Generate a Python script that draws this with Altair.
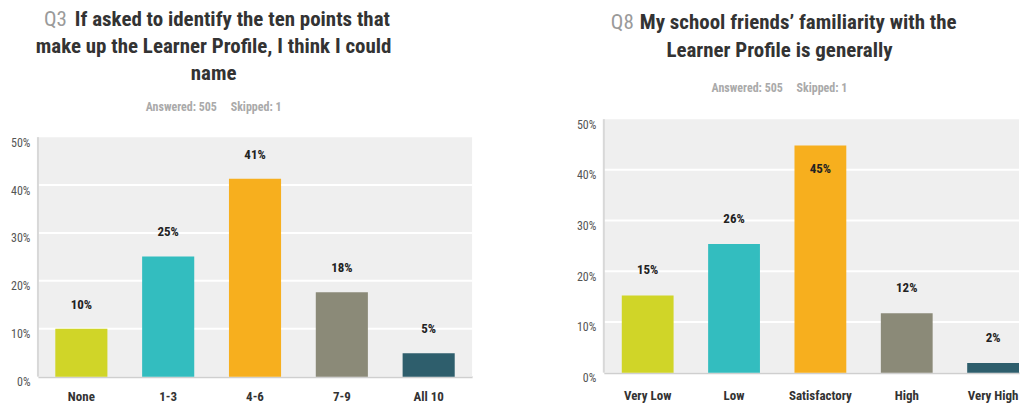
import altair as alt
import pandas as pd

# ---- data ----
q3_categories = ["None", "1-3", "4-6", "7-9", "All 10"]
q3_values = [0.100, 0.251, 0.413, 0.176, 0.049]
q3_labels = ["10%", "25%", "41%", "18%", "5%"]

q8_categories = ["Very Low", "Low", "Satisfactory", "High", "Very High"]
q8_values = [0.152, 0.254, 0.448, 0.117, 0.019]
q8_labels = ["15%", "26%", "45%", "12%", "2%"]

bar_colors = ["#D0D528", "#33BDBF", "#F7AF1E", "#8B8A78", "#2E5E6C"]
y_ticks = [0, 0.1, 0.2, 0.3, 0.4, 0.5]
grid_ticks = [0.1, 0.2, 0.3, 0.4]

q3_number = "Q3"
q3_title_first = "If asked to identify the ten points that"
q3_title_rest = ["make up the Learner Profile, I think I could", "name"]
q8_number = "Q8"
q8_title_first = "My school friends\u2019 familiarity with the"
q8_title_rest = ["Learner Profile is generally"]
subtitle = "Answered: 505\u00a0\u00a0\u00a0\u00a0 Skipped: 1"

FONT = "Liberation Sans Narrow, Arial Narrow, Roboto Condensed, sans-serif"


def one_text(text, x, y, **kw):
    return alt.Chart(alt.Data(values=[{}])).mark_text(
        text=text, font=FONT, baseline="alphabetic", **kw
    ).encode(x=alt.value(x), y=alt.value(y))


def panel(cats, vals, labels, number, first, rest, width, height, y_range,
          line_ys, sub_y, number_x, first_x, center_x, label_pad, band_scale):
    df = pd.DataFrame({"cat": cats, "v": vals, "lab": labels})
    base = alt.Chart(df)
    yscale = alt.Scale(domain=[0, 0.5], range=y_range)
    x = alt.X(
        "cat:N", sort=cats, scale=band_scale,
        axis=alt.Axis(
            title=None, labelAngle=0, ticks=False, domain=True,
            domainColor="#cfcfcf", domainWidth=2,
            labelFont=FONT, labelFontWeight="bold", labelFontSize=13,
            labelColor="#333333", labelPadding=label_pad,
        ),
    )
    y = alt.Y(
        "v:Q", scale=yscale,
        axis=alt.Axis(
            title=None, values=y_ticks, format=".0%", grid=False,
            domain=False, ticks=False, labelPadding=8, labelColor="#555555",
            labelFont=FONT, labelFontSize=12, labelOffset=5,
            minExtent=30, maxExtent=30,
        ),
    )
    bg = alt.Chart(alt.Data(values=[{}])).mark_rect(color="#efefef").encode(
        x=alt.value(0), x2=alt.value(width),
        y=alt.datum(0, scale=yscale), y2=alt.datum(0.5),
    )
    grid = alt.Chart(pd.DataFrame({"t": grid_ticks})).mark_rule(
        color="#ffffff", strokeWidth=2
    ).encode(y=alt.Y("t:Q", scale=yscale), x=alt.value(0), x2=alt.value(width))
    vline = alt.Chart(alt.Data(values=[{}])).mark_rule(
        color="#d8d8d8", strokeWidth=2
    ).encode(x=alt.value(0), y=alt.datum(0, scale=yscale), y2=alt.datum(0.5))
    bars = base.mark_bar().encode(
        x=x, y=y,
        color=alt.Color("cat:N", scale=alt.Scale(domain=cats, range=bar_colors), legend=None),
    )
    texts = base.transform_calculate(
        ly="datum.v > 0.42 ? datum.v - 0.046 : datum.v + 0.05"
    ).mark_text(
        font=FONT, fontWeight="bold", fontSize=13, color="#222222", baseline="middle"
    ).encode(x=alt.X("cat:N", sort=cats), y=alt.Y("ly:Q", scale=yscale), text="lab:N")

    layers = [bg, grid, vline, bars, texts]
    layers.append(one_text(number, number_x, line_ys[0], align="right",
                           fontSize=21, color="#9a9a9a"))
    layers.append(one_text(first, first_x, line_ys[0], align="left",
                           fontSize=21, fontWeight="bold", color="#333333"))
    for t, yy in zip(rest, line_ys[1:]):
        layers.append(one_text(t, center_x, yy, align="center",
                               fontSize=21, fontWeight="bold", color="#333333"))
    layers.append(one_text(subtitle, center_x, sub_y, align="center",
                           fontSize=12, fontWeight="bold", color="#aaaaaa"))
    return alt.layer(*layers).properties(width=width, height=height)


left = panel(q3_categories, q3_values, q3_labels, q3_number, q3_title_first, q3_title_rest,
             435, 258, [258, 18], [-93, -66, -39], -8, 29, 37, 176, 14,
             alt.Scale(paddingInner=0.4, paddingOuter=0.2))
right = panel(q8_categories, q8_values, q8_labels, q8_number, q8_title_first, q8_title_rest,
              416, 254, [254, 0], [-90, -62], -27, 30, 36, 176, 17,
              alt.Scale(paddingInner=0.4, paddingOuter=0.104, align=1))

chart = alt.hconcat(left, right, spacing=101).properties(
    padding={"left": 0, "top": 1, "right": 0, "bottom": 0}
).configure_view(strokeWidth=0)

chart.save("out.html", embed_options={"renderer": "svg", "actions": False})
